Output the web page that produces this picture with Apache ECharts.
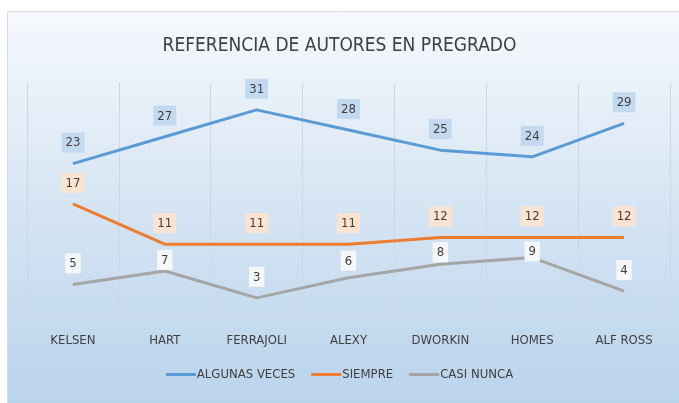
<!DOCTYPE html>
<html>
<head>
<meta charset="utf-8">
<script src="https://cdn.jsdelivr.net/npm/echarts@6/dist/echarts.min.js"></script>
<style>
  html, body { margin: 0; padding: 0; background: #fff; }
  #main { width: 679px; height: 403px; }
</style>
</head>
<body>
<div id="main"></div>
<script>
var categories = ['KELSEN', 'HART', 'FERRAJOLI', 'ALEXY', 'DWORKIN', 'HOMES', 'ALF ROSS'];
var algunasVeces = [23, 27, 31, 28, 25, 24, 29];
var siempre = [17, 11, 11, 11, 12, 12, 12];
var casiNunca = [5, 7, 3, 6, 8, 9, 4];

// label gap above the CASI NUNCA points (labels nudged down to avoid the orange line)
var casiNuncaLabelGap = [11, 1, 11, 7, 2, -4, 11];

var font = "'DejaVu Sans Condensed', 'Liberation Sans Narrow', sans-serif";

function lbl(bg) {
  return {
    show: true,
    position: 'top',
    distance: 11,
    color: '#404040',
    fontFamily: font,
    fontSize: 13,
    backgroundColor: bg,
    padding: [4, 4, 3, 4]
  };
}

var casiNuncaData = casiNunca.map(function (v, i) {
  return { value: v, label: { distance: casiNuncaLabelGap[i] } };
});

var myChart = echarts.init(document.getElementById('main'));
var option = {
  animation: false,
  graphic: [{
    type: 'rect',
    z: -10,
    silent: true,
    shape: { x: 7.5, y: 11.5, width: 680, height: 400 },
    style: {
      fill: new echarts.graphic.LinearGradient(0, 0, 0, 1, [
        { offset: 0, color: '#f6f9fd' },
        { offset: 0.5, color: '#d5e4f3' },
        { offset: 1, color: '#b9d3ec' }
      ]),
      stroke: '#dcdcdc',
      lineWidth: 1
    }
  }],
  title: {
    text: 'REFERENCIA DE AUTORES EN PREGRADO',
    left: 'center',
    top: 32,
    textStyle: { fontFamily: font, fontSize: 19, fontWeight: 'normal', color: '#404040' }
  },
  legend: {
    bottom: 17,
    left: 'center',
    itemWidth: 30,
    itemHeight: 3,
    itemGap: 16,
    icon: 'rect',
    textStyle: { fontFamily: font, fontSize: 13, color: '#404040', padding: [0, 0, 0, -4] },
    data: ['ALGUNAS VECES', 'SIEMPRE', 'CASI NUNCA']
  },
  grid: { left: 27, right: 9, top: 83, bottom: 85 },
  xAxis: {
    type: 'category',
    data: categories,
    boundaryGap: true,
    axisLine: { lineStyle: { color: '#c9d9ea', width: 1 } },
    axisTick: { show: false },
    axisLabel: { interval: 0, fontFamily: font, fontSize: 13, color: '#404040', margin: 16 },
    splitLine: { show: true, interval: 0, lineStyle: { color: '#c9d9ea', width: 1 } }
  },
  yAxis: {
    type: 'value',
    min: 0,
    max: 35,
    interval: 5,
    show: false,
    splitLine: { show: false }
  },
  series: [
    {
      name: 'ALGUNAS VECES',
      type: 'line',
      data: algunasVeces,
      symbol: 'circle',
      symbolSize: 0.1,
      lineStyle: { color: '#5b9bd5', width: 3 },
      itemStyle: { color: '#5b9bd5' },
      label: lbl('#c3d9ef')
    },
    {
      name: 'SIEMPRE',
      type: 'line',
      data: siempre,
      symbol: 'circle',
      symbolSize: 0.1,
      lineStyle: { color: '#ed7d31', width: 3 },
      itemStyle: { color: '#ed7d31' },
      label: lbl('#fbe3d1')
    },
    {
      name: 'CASI NUNCA',
      type: 'line',
      data: casiNuncaData,
      symbol: 'circle',
      symbolSize: 0.1,
      lineStyle: { color: '#a5a5a5', width: 3 },
      itemStyle: { color: '#a5a5a5' },
      label: lbl('#f6f7f9')
    }
  ]
};
myChart.setOption(option);
</script>
</body>
</html>
